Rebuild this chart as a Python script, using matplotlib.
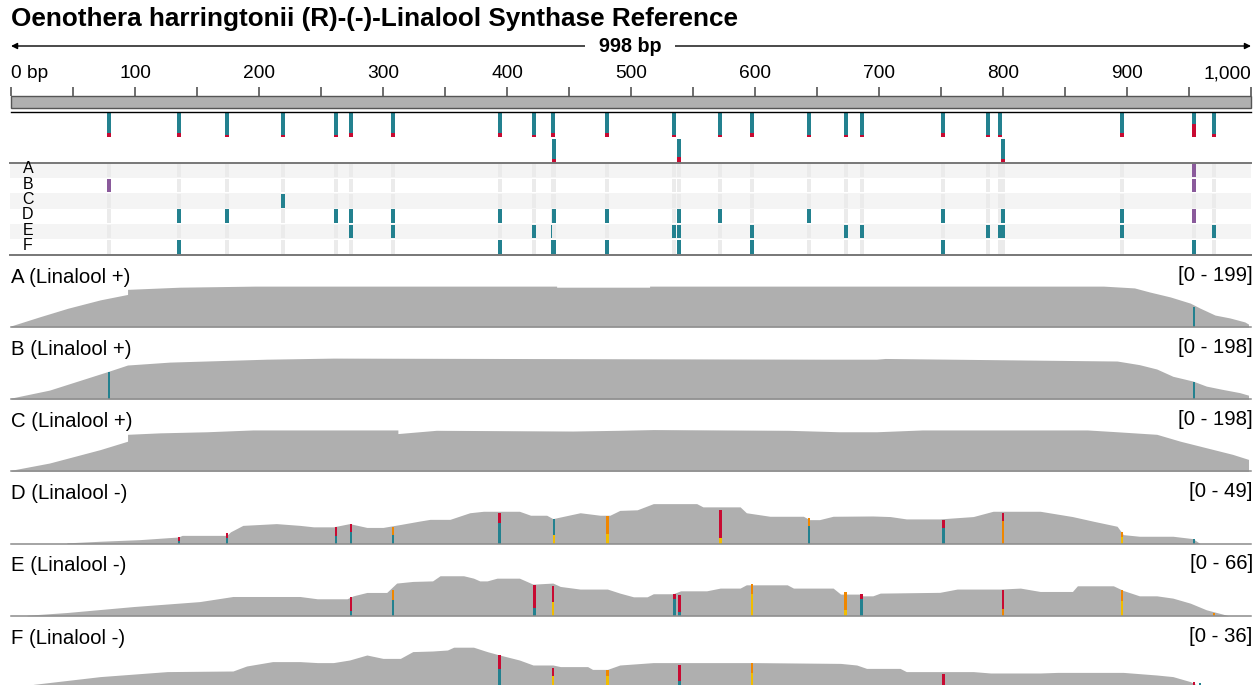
import numpy as np
import matplotlib
matplotlib.use('Agg')
import matplotlib.pyplot as plt

plt.rcParams['font.family'] = ['Liberation Sans', 'DejaVu Sans']

# ---------------- data ----------------
TITLE = "Oenothera harringtonii (R)-(-)-Linalool Synthase Reference"
SPAN_LABEL = "998 bp"
VIEW = (0, 1000)

ruler_ticks = [0, 50, 100, 150, 200, 250, 300, 350, 400, 450, 500,
               550, 600, 650, 700, 750, 800, 850, 900, 950, 1000]
ruler_label_pos = [0, 100, 200, 300, 400, 500, 600, 700, 800, 900, 1000]
ruler_labels = ['0 bp', '100', '200', '300', '400', '500', '600', '700',
                '800', '900', '1,000']

# variant sites: position (bp), display row, alt allele fraction
variant_pos = [79, 135.5, 174, 219, 262, 274, 308, 394, 422, 437, 438, 481,
               535, 539, 572, 597.5, 643.5, 673, 686, 752, 788, 797.5, 800,
               896, 954, 970]
variant_row = [0, 0, 0, 0, 0, 0, 0, 0, 0, 0, 1, 0,
               0, 1, 0, 0, 0, 0, 0, 0, 0, 0, 1,
               0, 0, 0]
variant_af = [0.17, 0.17, 0.08, 0.08, 0.08, 0.17, 0.17, 0.17, 0.08, 0.17, 0.17, 0.17,
              0.08, 0.25, 0.08, 0.17, 0.08, 0.08, 0.08, 0.17, 0.08, 0.08, 0.17,
              0.17, 0.54, 0.12]

samples = ['A', 'B', 'C', 'D', 'E', 'F']
gt_hom = {
    'A': [],
    'B': [],
    'C': [219],
    'D': [135.5, 174, 262, 274, 308, 394, 438, 481, 539, 572, 643.5, 752, 800, 896],
    'E': [274, 308, 422, 437, 535, 539, 597.5, 673, 686, 788, 797.5, 800, 896, 970],
    'F': [135.5, 394, 437, 438, 481, 539, 597.5, 752, 954],
}
gt_het = {
    'A': [954],
    'B': [79, 954],
    'C': [],
    'D': [954],
    'E': [],
    'F': [],
}

track_names = ['A (Linalool +)', 'B (Linalool +)', 'C (Linalool +)',
               'D (Linalool -)', 'E (Linalool -)', 'F (Linalool -)']
track_range = [199, 198, 198, 49, 66, 36]

cov_A = [(0, 3), (23, 28), (46, 52), (72, 75), (94, 90), (94, 104), (136, 110),
         (197, 113), (440, 113), (440, 110), (515, 110), (515, 113), (881, 113),
         (906, 108), (918, 97), (935, 83), (951, 66), (959, 52), (971, 33),
         (983, 25), (995, 14), (998, 8)]
cov_B = [(0, 3), (31, 25), (78, 76), (94, 94), (128, 102), (206, 110), (260, 113),
         (655, 110), (698, 110), (705, 112), (892, 105), (910, 95), (924, 83),
         (937, 63), (953, 50), (964, 36), (977, 27), (991, 18), (998, 11)]
cov_C = [(0, 3), (31, 23), (72, 60), (94, 83), (94, 102), (120, 106), (158, 109),
         (195, 114), (312, 114), (312, 104), (343, 113), (453, 111), (490, 113),
         (518, 115), (627, 113), (668, 109), (698, 109), (735, 114), (868, 114),
         (892, 109), (924, 102), (943, 83), (964, 65), (985, 47), (998, 33)]
cov_D = [(45, 0.5), (72, 1.6), (104, 2.7), (135, 4.5), (138, 5.6), (174, 5.6),
         (177, 8), (187, 12.4), (214, 13.6), (233, 12.4), (244, 11.4), (260, 11.4),
         (273, 13.6), (287, 11), (300, 11), (314, 13), (330, 15.4), (338, 16.5),
         (354, 16.5), (370, 21), (381, 22), (410, 22), (419, 19.3), (432, 19.3),
         (437, 17), (459, 21), (475, 19.3), (483, 19.3), (491, 22.6), (505, 23),
         (518, 27.2), (553, 27.2), (558, 25), (588, 25), (593, 21), (612, 18.6),
         (639, 18.6), (644, 16.3), (652, 16.3), (663, 18.6), (695, 18.8),
         (709, 18.4), (722, 16.8), (749, 16.8), (776, 18.4), (792, 22), (830, 22),
         (856, 18.4), (873, 15.2), (892, 11.8), (897, 6.1), (910, 5), (937, 5),
         (953, 3.4), (959, 0)]
cov_E = [(13, 0.5), (45, 3), (99, 8.5), (152, 13), (179, 17.7), (233, 17.7),
         (247, 15.6), (271, 15.6), (276, 18.3), (287, 21.4), (303, 21.4), (311, 30),
         (324, 31.5), (340, 32), (346, 36.7), (365, 36.7), (373, 34.5), (378, 32),
         (384, 32), (392, 34.5), (410, 34.5), (421, 29), (437, 30), (443, 26.9),
         (459, 24.5), (481, 24.5), (491, 20.8), (502, 17.4), (513, 17.4),
         (518, 20.2), (534, 20.2), (540, 22.9), (561, 22.9), (572, 25.4),
         (588, 25.4), (593, 28.4), (626, 28.4), (631, 25.4), (663, 25.4),
         (669, 19.9), (685, 19.9), (687, 18.3), (695, 18.3), (701, 20.8),
         (749, 21.5), (763, 24.5), (798, 24.5), (814, 25.4), (830, 22.3),
         (856, 22.3), (860, 27.5), (889, 27.5), (897, 23.2), (910, 18.3),
         (924, 18.3), (937, 16.2), (951, 11.6), (964, 5.5), (977, 1.6), (982, 0)]
cov_F = [(18, 1.8), (72, 5.7), (126, 8.2), (179, 8.5), (190, 11), (211, 13.2),
         (233, 13.2), (247, 12.7), (260, 12.7), (273, 14), (287, 16.5), (300, 14.8),
         (314, 14.8), (324, 18.2), (340, 18.5), (352, 19), (357, 20.4), (373, 20.4),
         (384, 18.2), (394, 16.5), (410, 14), (421, 11.5), (437, 11.5), (443, 10.7),
         (465, 10.7), (469, 9.3), (481, 9.3), (491, 11.5), (518, 12.7), (599, 12.7),
         (669, 12.3), (682, 11.5), (690, 9.8), (717, 9.8), (722, 8.2), (776, 8.2),
         (790, 7.5), (830, 7.5), (844, 7.8), (897, 7.8), (924, 6.5), (937, 5.7),
         (951, 3.2), (961, 0)]
coverages = [cov_A, cov_B, cov_C, cov_D, cov_E, cov_F]

# mismatches: (bp, lower allele, lower count, upper allele, upper count)
mm_A = [(954, 'teal', 55, None, 0)]
mm_B = [(79, 'teal', 75, None, 0), (954, 'teal', 48, None, 0)]
mm_C = []
mm_D = [(135.5, 'teal', 1.8, 'red', 2.7), (174, 'teal', 3.9, 'red', 3.4),
        (262, 'teal', 5.2, 'red', 6.1), (274, 'teal', 7.7, 'red', 5.4),
        (308, 'teal', 5.7, 'orange', 5.7), (394, 'teal', 14, 'red', 7),
        (438, 'yellow', 5.7, 'teal', 10.9), (481, 'yellow', 6.3, 'orange', 12.2),
        (572, 'yellow', 3.6, 'red', 19), (643.5, 'teal', 11.8, 'orange', 5.7),
        (752, 'teal', 10.7, 'red', 5.2), (800, 'orange', 15.2, 'red', 5.7),
        (896, 'yellow', 4.3, 'orange', 3.6), (954, 'teal', 2.9, None, 0)]
mm_E = [(274, 'teal', 4, 'red', 12.8), (308, 'teal', 14.7, 'orange', 9.2),
        (422, 'teal', 7.6, 'red', 20.8), (437, 'yellow', 12.8, 'red', 14.7),
        (535, 'teal', 15.6, 'red', 4.6), (539, 'teal', 3.7, 'red', 15.6),
        (597.5, 'yellow', 20.2, 'orange', 9.2), (673, 'yellow', 4.9, 'orange', 16.5),
        (686, 'teal', 15.6, 'red', 4.6), (800, 'orange', 6.4, 'red', 17.4),
        (896, 'yellow', 13.8, 'orange', 10.1), (970, 'orange', 3, None, 0)]
mm_F = [(394, 'teal', 9.5, 'red', 7), (437, 'yellow', 6, 'red', 4.2),
        (481, 'yellow', 6, 'orange', 3), (539, 'teal', 3.5, 'red', 8),
        (597.5, 'yellow', 7.7, 'orange', 4.7), (752, 'red', 7, None, 0),
        (954, 'red', 3.2, None, 0), (959, 'teal', 2.7, None, 0)]
mismatches = [mm_A, mm_B, mm_C, mm_D, mm_E, mm_F]

# ---------------- style ----------------
COL = {'teal': '#23818f', 'red': '#c80a32', 'orange': '#f08700',
       'yellow': '#f2bd00', 'purple': '#8a5a9b'}
COV_GRAY = '#afafaf'
REF_GRAY = '#ebebeb'
STRIPE = '#f4f4f4'
LABEL_FS = 14.7

W, H = 1258, 685
fig = plt.figure(figsize=(W / 100, H / 100), dpi=100)
X0, X1 = 11, 1251


def px_axes(x0, y0, x1, y1):
    ax = fig.add_axes([x0 / W, 1 - y1 / H, (x1 - x0) / W, (y1 - y0) / H])
    ax.set_xlim(*VIEW)
    ax.axis('off')
    return ax


fig.text(X0 / W, 1 - 19 / H, TITLE, fontsize=18.8, fontweight='bold',
         ha='left', va='center')

# ---- ruler / header ----
axh = px_axes(X0, 30, X1, 111)
axh.set_ylim(111, 30)
axh.annotate('', xy=(VIEW[0], 46), xytext=(VIEW[1], 46),
             arrowprops=dict(arrowstyle='<|-|>', color='black', lw=1.0,
                             mutation_scale=9, shrinkA=0, shrinkB=0),
             annotation_clip=False)
axh.text(499, 46, SPAN_LABEL, ha='center', va='center', fontsize=14.2,
         fontweight='bold',
         bbox=dict(boxstyle='square,pad=0.7', fc='white', ec='none'))
axh.vlines(ruler_ticks, 87, 96, color='#555555', lw=1.2, clip_on=False)
for p, lab in zip(ruler_label_pos, ruler_labels):
    ha = 'left' if p == VIEW[0] else ('right' if p == VIEW[1] else 'center')
    axh.text(p, 74, lab, ha=ha, va='center', fontsize=13.8)
axh.barh(102, VIEW[1] - VIEW[0], left=VIEW[0], height=12, color='#b0b0b0',
         edgecolor='#555555', lw=1.0, clip_on=False)

# ---- variant sites ----
axv = px_axes(X0, 111, X1, 163)
axv.set_ylim(163, 111)
axv.axhline(111.6, color='black', lw=1.0, clip_on=False)
row_top = [113, 139]
row_h = 24
for p, r, af in zip(variant_pos, variant_row, variant_af):
    axv.bar(p, row_h, bottom=row_top[r], width=3.2, color=COL['teal'], lw=0)
    axv.bar(p, row_h * af, bottom=row_top[r] + row_h * (1 - af), width=3.2,
            color=COL['red'], lw=0)

# ---- genotypes ----
axg = px_axes(X0 - 1, 162.5, X1, 254.5)
axg.set_xlim(VIEW[0] - 0.8, VIEW[1])
axg.set_ylim(6, 0)
for k in range(0, 6, 2):
    axg.axhspan(k, k + 1, color=STRIPE, lw=0)
for p in variant_pos:
    for k, s in enumerate(samples):
        if p in gt_hom[s]:
            c = COL['teal']
        elif p in gt_het[s]:
            c = COL['purple']
        else:
            c = REF_GRAY
        axg.bar(p, 0.9, bottom=k + 0.05, width=3.2, color=c, lw=0)
for k, s in enumerate(samples):
    axg.text(13.7, k + 0.42, s, ha='center', va='center', fontsize=11.5)
axg.axhline(0, color='#777777', lw=1.4, clip_on=False)
axg.axhline(6, color='#777777', lw=1.4, clip_on=False)

# ---- coverage tracks ----
for i, (name, rng, cov, mm) in enumerate(zip(track_names, track_range,
                                             coverages, mismatches)):
    bottom = 327 + 72.2 * i
    ax = px_axes(X0, bottom - 72, X1, bottom)
    ax.set_ylim(0, rng)
    pos = [c[0] for c in cov]
    val = [c[1] for c in cov]
    ax.fill_between(pos, val, 0, color=COV_GRAY, lw=0)
    for p, c1, n1, c2, n2 in mm:
        ax.bar(p, n1, width=2.0, color=COL[c1], lw=0)
        if c2 is not None:
            ax.bar(p, n2, bottom=n1, width=2.0, color=COL[c2], lw=0)
    ax.axhline(0, color='#8c8c8c', lw=1.1, clip_on=False)
    ax.text(0, 50 / 72, name, transform=ax.transAxes, ha='left', va='center',
            fontsize=LABEL_FS)
    ax.text(1.0015, 52 / 72, f'[0 - {rng}]', transform=ax.transAxes,
            ha='right', va='center', fontsize=LABEL_FS)

fig.savefig('out.png', dpi=100)
